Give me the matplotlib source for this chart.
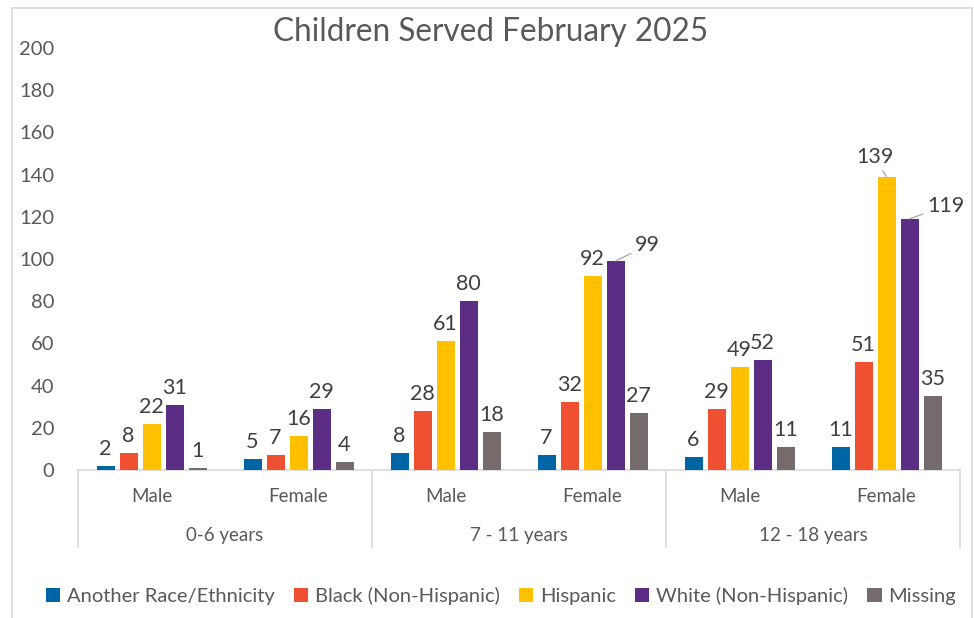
import matplotlib
matplotlib.use("Agg")
import matplotlib.pyplot as plt
from matplotlib.patches import Rectangle
import numpy as np

plt.rcParams['font.family'] = ['Lato', 'DejaVu Sans']

title = "Children Served February 2025"
age_groups = ["0-6 years", "7 - 11 years", "12 - 18 years"]
genders = ["Male", "Female"]
series_names = ["Another Race/Ethnicity", "Black (Non-Hispanic)", "Hispanic",
                "White (Non-Hispanic)", "Missing"]
another = [2, 5, 8, 7, 6, 11]
black = [8, 7, 28, 32, 29, 51]
hispanic = [22, 16, 61, 92, 49, 139]
white = [31, 29, 80, 99, 52, 119]
missing = [1, 4, 18, 27, 11, 35]
yticks = list(range(0, 201, 20))

colors = ["#0065A4", "#F05032", "#FFC000", "#5C2D84", "#756B6B"]
series = [another, black, hispanic, white, missing]

W, H = 974, 618
fig = plt.figure(figsize=(W / 100, H / 100), dpi=100)
# outer border
fig.patches.append(Rectangle((12 / W, -0.05), (972 - 12) / W, 1 - 8 / H + 0.05,
                             transform=fig.transFigure, fill=False,
                             edgecolor="#D9D9D9", linewidth=1.2))

left, right = 78 / W, 960 / W
bottom, top = 1 - 470 / H, 1 - 48 / H
ax = fig.add_axes([left, bottom, right - left, top - bottom])
ax.set_xlim(0, 6)
ax.set_ylim(0, 200)
for s in ax.spines.values():
    s.set_visible(False)
ax.set_xticks([])
ax.set_yticks(yticks)
ax.tick_params(axis='y', length=0, pad=17, labelsize=14.5, labelcolor="#595959")

step = 23 / 147
bw = 18 / 147
x = np.arange(6) + 0.5
special = {(3, 3): (32, 16), (2, 5): (-12, 20), (3, 5): (36, 13)}
for si, (vals, c) in enumerate(zip(series, colors)):
    xs = x + (si - 2) * step
    ax.bar(xs, vals, width=bw, color=c, label=series_names[si], zorder=3)
    for gi, (xx, v) in enumerate(zip(xs, vals)):
        if (si, gi) in special:
            dx, dy = special[(si, gi)]
            ax.annotate(str(v), (xx, v), xytext=(dx, dy), textcoords='offset pixels',
                        ha='center', va='center', fontsize=15.5, color="#404040",
                        arrowprops=dict(arrowstyle='-', color="#A6A6A6", lw=0.9,
                                        shrinkA=1, shrinkB=0))
        else:
            ax.annotate(str(v), (xx, v), xytext=(0, 17), textcoords='offset pixels',
                        ha='center', va='center', fontsize=15.5, color="#404040")

# category axis
axh = 470 - 48
ax.plot([0, 6], [0, 0], color="#D9D9D9", lw=1.2, clip_on=False, zorder=2)
for xv in [0, 2, 4, 6]:
    ax.plot([xv, xv], [0, -77 / axh * 200], color="#D9D9D9", lw=1.2, clip_on=False)
for i in range(6):
    ax.text(i + 0.5, -27 / axh * 200, genders[i % 2], ha='center', va='center',
            fontsize=13.5, color="#595959")
for i, g in enumerate(age_groups):
    ax.text(2 * i + 1, -66 / axh * 200, g, ha='center', va='center',
            fontsize=13.5, color="#595959")

fig.text(491 / W, 1 - 32 / H, title, ha='center', va='center', fontsize=22.7,
         color="#595959")

leg = fig.legend(loc='center', bbox_to_anchor=(501 / W, 1 - 596 / H), ncol=5,
                 frameon=False, fontsize=14.5, handlelength=0.7, handleheight=0.7,
                 handletextpad=0.35, columnspacing=0.95, labelcolor="#595959")

fig.savefig("out.png", dpi=100)
